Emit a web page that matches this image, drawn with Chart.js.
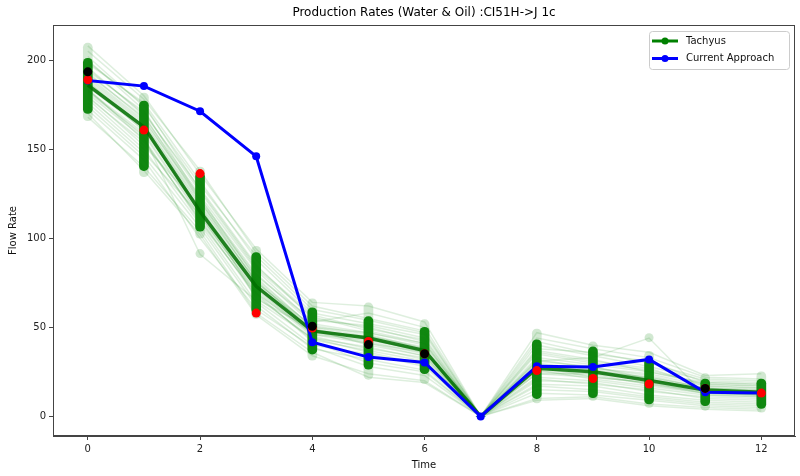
<!DOCTYPE html>
<html><head><meta charset="utf-8">
<script src="https://cdn.jsdelivr.net/npm/chart.js@4.4.1/dist/chart.umd.min.js"></script>
<style>html,body{margin:0;padding:0;background:#fff}</style>
</head><body>
<canvas id="c" width="800" height="476"></canvas>
<script>
// ---- data ----
const titleText = "Production Rates (Water & Oil) :CI51H->J 1c";
const times = [0,1,2,3,4,5,6,7,8,9,10,11,12];
const xTicks = [0,2,4,6,8,10,12];
const yTicks = [0,50,100,150,200];
const currentApproach = [188.5,185.4,171.3,146,41.6,33.3,30.3,0,28.1,27.7,32,13.5,13.1];
const tachyusMean = [186,162.5,115,73,48,44,37,0,27,25,20.2,14.8,13.6];
const redPoints = [189,160.7,136.3,58,49.6,42.1,35.2,null,25.7,21.3,18.2,15.7,13.1];
const blackPoints = [193.4,null,null,null,50.6,40.3,35.2,null,null,null,null,15.7,null];
const spreadLow  = [166,134.5,100,55,31.5,20.8,18.4,0,7.5,9,5,3.4,2.4];
const spreadHigh = [209.5,181.5,140,95.5,66,63.7,54.3,0,49,41.8,36.5,24,25];
const coreLow  = [170,138,104,57.5,35,26.5,24,0,10,10.5,7,6,4.5];
const coreHigh = [201,177,137,92,61,56,50,0,43,39,32.5,21,21];
const outlierTimes = [2,10];
const outlierValues = [91.4,44.2];
const ensemble = [
  [186,162,115,73,48,44,37,0,27,25,20,15,13],
  [205,178,138,92,62,55,48,0,44,38,33,22,21],
  [170,138,102,57,34,24,20,0,10,11,7,5,4],
  [195,170,128,85,55,50,42,0,35,30,26,18,17],
  [178,150,108,64,40,35,28,0,18,17,12,9,8],
  [200,172,122,80,52,47,40,0,32,27,24,17,16],
  [182,158,112,70,45,38,33,0,22,20,16,12,11],
  [190,165,120,78,50,45,39,0,30,26,22,16,15],
  [174,146,106,62,38,32,26,0,15,14,10,7,6],
  [198,176,132,88,58,52,46,0,40,34,28,20,19],
  [188,160,117,74,47,42,35,0,25,23,18,14,12],
  [184,155,110,68,43,37,31,0,20,19,14,11,10],
  [192,168,124,82,53,58,50,0,38,36,30,21,20],
  [180,152,118,66,49,40,34,0,28,22,19,13,12],
  [208,180,136,94,64,62,53,0,47,40,36,23,24],
  [168,140,104,58,36,22,19,0,9,10,6,4,3],
  [187,163,114,72,46,43,36,0,24,24,21,14,14],
  [194,171,126,83,56,48,41,0,33,29,25,18,17],
  [176,148,113,69,42,30,25,0,17,15,11,8,7],
  [202,174,130,90,60,54,47,0,42,35,31,19,18],
  [185,161,116,75,51,46,38,0,29,27,23,16,15],
  [189,164,119,76,48,41,36,0,26,21,17,13,12],
  [172,144,100,60,39,28,23,0,13,12,9,6,5],
  [196,169,121,79,54,51,44,0,36,31,27,17,16],
  [183,157,91,65,44,39,32,0,31,33,44,12,11],
  [191,166,123,77,50,47,41,0,31,28,21,15,14],
  [179,154,111,67,44,36,29,0,21,18,15,10,9],
  [199,175,127,84,57,49,43,0,37,32,25,19,18],
  [183,159,113,71,46,41,34,0,24,22,19,14,13],
  [188,163,118,76,49,43,37,0,28,26,21,15,14],
  [181,156,109,69,47,45,38,0,26,24,18,13,12],
  [193,167,121,75,49,44,36,0,29,25,22,16,14]
];

// ---- helpers ----
const pts = (vals) => times.map((t,i)=>({x:t,y:vals[i]})).filter(p=>p.y!==null);
const FONT = "'DejaVu Sans', sans-serif";

const datasets = [];
ensemble.forEach(m => datasets.push({
  type:'line', data: pts(m), borderColor:'rgba(0,128,0,0.13)', borderWidth:1.5,
  pointRadius:0, order:10, tension:0
}));
datasets.push({
  type:'bar', data: times.map((t,i)=>({x:t,y:[spreadLow[i],spreadHigh[i]]})),
  backgroundColor:'rgba(0,128,0,0.18)', borderWidth:0, barThickness:9, grouped:false,
  borderRadius:4.5, borderSkipped:false, order:8
});
datasets.push({
  type:'bar', data: times.map((t,i)=>({x:t,y:[coreLow[i],coreHigh[i]]})),
  backgroundColor:'rgba(0,128,0,0.92)', borderWidth:0, barThickness:9, grouped:false,
  borderRadius:4.5, borderSkipped:false, order:7
});
datasets.push({
  type:'line', data: outlierTimes.map((t,i)=>({x:t,y:outlierValues[i]})), showLine:false,
  pointRadius:4.5, pointBackgroundColor:'rgba(0,128,0,0.18)', pointBorderWidth:0, order:9
});
datasets.push({
  type:'line', data: pts(tachyusMean), borderColor:'rgba(0,110,0,0.85)', borderWidth:3.5,
  pointRadius:0, order:6, tension:0
});
datasets.push({
  type:'line', data: pts(currentApproach), borderColor:'#0000ff', borderWidth:3,
  pointRadius:4, pointBackgroundColor:'#0000ff', pointBorderWidth:0, order:5, tension:0
});
datasets.push({
  type:'line', data: pts(redPoints), showLine:false,
  pointRadius:4.5, pointBackgroundColor:'#ff0000', pointBorderWidth:0, order:4
});
datasets.push({
  type:'line', data: pts(blackPoints), showLine:false,
  pointRadius:4.5, pointBackgroundColor:'#000000', pointBorderWidth:0, order:3
});

const framePlugin = {
  id:'frame',
  afterDraw(chart){
    const {ctx, chartArea:a} = chart;
    ctx.save();
    ctx.strokeStyle = '#444'; ctx.lineWidth = 1;
    ctx.strokeRect(Math.round(a.left)+0.5, Math.round(a.top)+0.5, Math.round(a.right-a.left)-1, Math.round(a.bottom-a.top)-1);
    ctx.fillStyle = '#000'; ctx.font = "12px " + FONT;
    ctx.textAlign = 'center'; ctx.textBaseline = 'middle';
    ctx.fillText(titleText, (a.left+a.right)/2, 13);
    const bx = 649, by = 31, bw = 140, bh = 38;
    ctx.fillStyle = 'rgba(255,255,255,0.85)';
    ctx.strokeStyle = '#cccccc';
    ctx.beginPath();
    if (ctx.roundRect) ctx.roundRect(bx+0.5, by+0.5, bw, bh, 3); else ctx.rect(bx+0.5, by+0.5, bw, bh);
    ctx.fill(); ctx.stroke();
    const items = [['Tachyus','#008000',41],['Current Approach','#0000ff',58.5]];
    items.forEach(([label,color,y])=>{
      ctx.strokeStyle = color; ctx.lineWidth = 3;
      ctx.beginPath(); ctx.moveTo(652,y); ctx.lineTo(678,y); ctx.stroke();
      ctx.fillStyle = color; ctx.beginPath(); ctx.arc(665,y,3.5,0,Math.PI*2); ctx.fill();
      ctx.fillStyle = '#111'; ctx.font = "10px " + FONT; ctx.textAlign='left'; ctx.textBaseline='middle';
      ctx.fillText(label, 686, y);
    });
    ctx.restore();
  }
};

new Chart(document.getElementById('c'), {
  type:'line',
  data:{datasets},
  plugins:[framePlugin],
  options:{
    responsive:false, animation:false, devicePixelRatio:1,
    layout:{padding:{top:25,right:5,left:0,bottom:0}},
    plugins:{legend:{display:false}, tooltip:{enabled:false}, title:{display:false}},
    elements:{line:{tension:0}},
    scales:{
      x:{type:'linear', min:-0.62, max:12.6, offset:false,
        afterBuildTicks: s => { s.ticks = xTicks.map(v=>({value:v})); },
        afterFit: s => { s.height = 40; },
        ticks:{font:{family:FONT,size:10}, color:'#222', padding:3, maxRotation:0},
        grid:{offset:false, drawOnChartArea:false, drawTicks:true, tickLength:4, color:'#444'},
        border:{display:true, color:'#444'},
        title:{display:true, text:'Time', font:{family:FONT,size:10}, color:'#111', padding:{top:0,bottom:5}}
      },
      y:{type:'linear', min:-11, max:219.7,
        afterBuildTicks: s => { s.ticks = yTicks.map(v=>({value:v})); },
        afterFit: s => { s.width = 53; },
        ticks:{font:{family:FONT,size:10}, color:'#222', padding:3},
        grid:{drawOnChartArea:false, drawTicks:true, tickLength:4, color:'#444'},
        border:{display:true, color:'#444'},
        title:{display:true, text:'Flow Rate', font:{family:FONT,size:10}, color:'#111', padding:{top:7,bottom:0}}
      }
    }
  }
});
</script>
</body></html>
